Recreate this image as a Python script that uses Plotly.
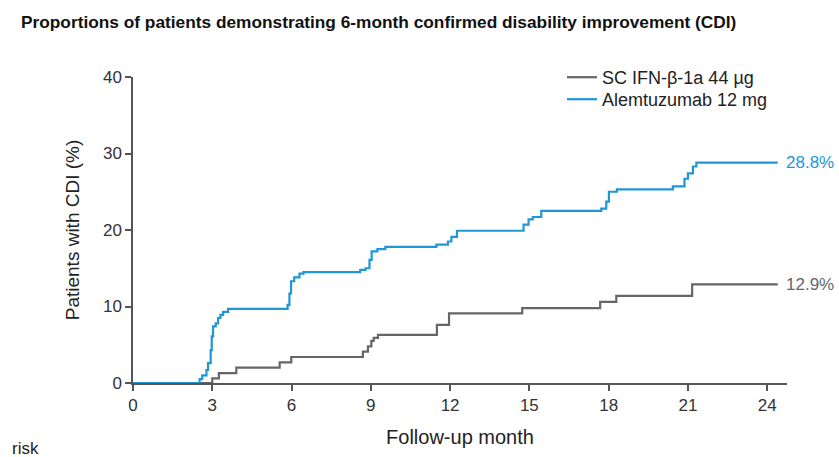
import plotly.graph_objects as go

# ---- data ----
title_text = "Proportions of patients demonstrating 6-month confirmed disability improvement (CDI)"
series_names = ["SC IFN-β-1a 44 µg", "Alemtuzumab 12 mg"]

ifn_months = [0, 3.00, 3.25, 3.91, 5.55, 5.99, 8.70, 8.89, 9.02, 9.11, 9.27,
              11.50, 11.96, 14.73, 17.68, 18.29, 21.16, 24.40]
ifn_values = [0, 0.6, 1.3, 2.0, 2.7, 3.4, 4.1, 4.8, 5.5, 5.9, 6.3,
              7.6, 9.1, 9.8, 10.6, 11.4, 12.9, 12.9]

alem_months = [0, 2.52, 2.62, 2.78, 2.84, 2.94, 2.98, 3.03, 3.13, 3.22, 3.31, 3.41, 3.60,
               5.85, 5.92, 5.98, 6.10, 6.30, 6.45,
               8.60, 8.80, 8.95, 9.03, 9.25, 9.55,
               11.48, 11.92, 12.05, 12.26,
               14.78, 14.97, 15.13, 15.45,
               17.72, 17.91, 18.01, 18.31,
               20.43, 20.87, 21.00, 21.19, 21.32, 24.40]
alem_values = [0, 0.5, 1.0, 1.7, 2.6, 4.3, 6.1, 7.4, 7.8, 8.5, 8.9, 9.3, 9.7,
               10.2, 11.7, 13.3, 13.8, 14.3, 14.5,
               14.8, 15.0, 16.1, 17.2, 17.5, 17.8,
               18.1, 18.5, 19.1, 19.9,
               20.7, 21.4, 21.7, 22.5,
               22.8, 23.7, 25.0, 25.3,
               25.7, 26.7, 27.4, 28.3, 28.8, 28.8]

end_labels = ["12.9%", "28.8%"]
x_ticks = [0, 3, 6, 9, 12, 15, 18, 21, 24]
y_ticks = [0, 10, 20, 30, 40]
x_title = "Follow-up month"
y_title = "Patients with CDI (%)"
footer_text = "risk"

# ---- styling ----
W, H = 839, 457
ML, MR, MT, MB = 133, 52, 77, 74
GREY = "#666666"
BLUE = "#2196d6"
FONT = "Liberation Sans, Arial, sans-serif"

pw = W - ML - MR
ph = H - MT - MB


def py(ypix):
    return 1 - (ypix - MT) / ph


fig = go.Figure()
fig.add_trace(go.Scatter(x=ifn_months, y=ifn_values, mode="lines", line_shape="hv",
                         line=dict(color=GREY, width=2.2), name=series_names[0],
                         legend="legend"))
fig.add_trace(go.Scatter(x=alem_months, y=alem_values, mode="lines", line_shape="hv",
                         line=dict(color=BLUE, width=2.2), name=series_names[1],
                         legend="legend2"))

for xs, ys, lab, col in [(ifn_months, ifn_values, end_labels[0], GREY),
                         (alem_months, alem_values, end_labels[1], BLUE)]:
    fig.add_annotation(x=xs[-1], y=ys[-1], text=lab, showarrow=False,
                       xanchor="left", yanchor="middle", xshift=6,
                       font=dict(size=17, color=col, family=FONT))

fig.add_annotation(xref="paper", yref="paper", x=(10 - ML) / pw, y=py(448),
                   text=footer_text, showarrow=False, xanchor="left", yanchor="middle",
                   font=dict(size=17, color="#222", family=FONT))

leg_common = dict(xanchor="left", yanchor="top", bgcolor="rgba(0,0,0,0)",
                  font=dict(size=18, color="#222", family=FONT), itemwidth=30)

fig.update_layout(
    width=W, height=H,
    margin=dict(l=ML, r=MR, t=MT, b=MB),
    paper_bgcolor="white", plot_bgcolor="white",
    title=dict(text="<b>" + title_text + "</b>", x=21 / W, xanchor="left",
               y=1 - 22 / H, yanchor="middle",
               font=dict(size=17.3, color="#111", family=FONT)),
    legend=dict(x=(562 - ML) / pw, y=py(59), **leg_common),
    legend2=dict(x=(562 - ML) / pw, y=py(81), **leg_common),
    showlegend=True,
    xaxis=dict(range=[0, 24.75], tickvals=x_ticks, showgrid=False, zeroline=False,
               showline=True, linecolor="#555", linewidth=1.5,
               ticks="outside", ticklen=6, tickcolor="#555", tickwidth=1.5,
               tickfont=dict(size=17, color="#333", family=FONT),
               title=dict(text=x_title, font=dict(size=20, color="#222", family=FONT), standoff=16)),
    yaxis=dict(range=[0, 40], tickvals=y_ticks, showgrid=False, zeroline=False,
               showline=True, linecolor="#555", linewidth=1.5,
               ticks="outside", ticklen=6, tickcolor="#555", tickwidth=1.5,
               tickfont=dict(size=17, color="#333", family=FONT),
               title=dict(text=y_title, font=dict(size=19, color="#222", family=FONT), standoff=18)),
)

fig.write_html("out.html")
